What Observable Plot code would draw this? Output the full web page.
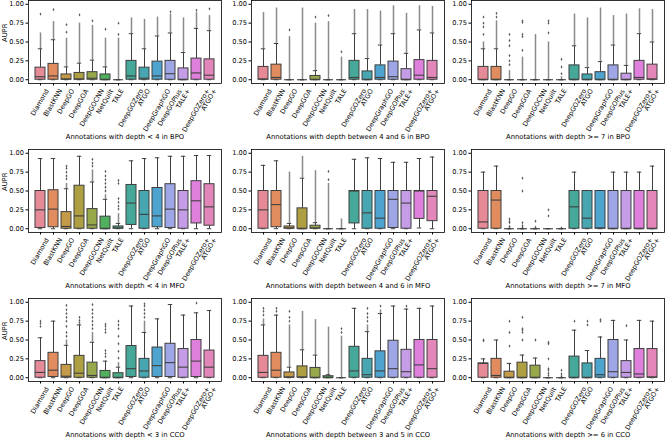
<!DOCTYPE html>
<html>
<head>
<meta charset="utf-8">
<script src="https://cdn.jsdelivr.net/npm/d3@7"></script>
<script src="https://cdn.jsdelivr.net/npm/@observablehq/plot@0.6"></script>
<style>
  html, body { margin: 0; padding: 0; background: #fff; }
  #chart { position: relative; width: 666px; height: 441px; overflow: hidden; background: #fff; font-family: "DejaVu Sans", sans-serif; }
</style>
</head>
<body>
<div id="chart"></div>
<script>
// ---- categories / labels ----
const methods = ["Diamond","BlastKNN","DeepGO","DeepGOA","DeepGOCNN","NetQuilt","TALE","DeepGOZero","ATGO","DeepGraphGO","DeepGOPlus","TALE+","DeepGOZero+","ATGO+"];
const palette = ["#e68a98","#e08c5e","#c59a48","#ae9f42","#97a84a","#50b05e","#49a983","#45a898","#48a6b0","#4ea3cf","#9ea6e6","#c49de6","#df80dc","#e386ba"];
const titles = [
  "Annotations with depth < 4 in BPO",
  "Annotations with depth between 4 and 6 in BPO",
  "Annotations with depth >= 7 in BPO",
  "Annotations with depth < 4 in MFO",
  "Annotations with depth between 4 and 6 in MFO",
  "Annotations with depth >= 7 in MFO",
  "Annotations with depth < 3 in CCO",
  "Annotations with depth between 3 and 5 in CCO",
  "Annotations with depth >= 6 in CCO"
];
const yTicks = [0, 0.25, 0.5, 0.75, 1];
const yLabel = "AUPR";

// ---- box stats per panel: [whiskerLow, q1, median, q3, whiskerHigh, denseFlierTop] ----
const bpo1 = [[0,0,0.04,0.16,0.41,0.62],[0,0,0.05,0.21,0.53,0.77],[0,0,0.01,0.07,0.17,0.55],[0,0,0.01,0.09,0.22,0.75],[0,0,0.02,0.10,0.26,0.72],[0,0,0,0.07,0.17,0.55],[0,0,0,0,0,0.55],[0,0,0.05,0.25,0.61,0.82],[0,0,0.02,0.16,0.41,0.80],[0,0,0.05,0.24,0.58,0.83],[0,0,0.08,0.25,0.62,0.87],[0,0,0,0.15,0.36,0.82],[0,0,0.09,0.28,0.68,0.89],[0,0,0.06,0.27,0.65,0.85]];
const bpo2 = [[0,0,0.01,0.17,0.41,0.89],[0,0,0.03,0.20,0.48,0.95],[0,0,0,0,0,0.57],[0,0,0,0,0,0.95],[0,0,0,0.05,0.12,0.75],[0,0,0,0,0,0.77],[0,0,0,0,0,0.30],[0,0,0.03,0.25,0.61,0.93],[0,0,0,0.11,0.28,0.93],[0,0,0.03,0.19,0.46,0.91],[0,0,0.04,0.24,0.61,0.98],[0,0,0,0.14,0.35,0.88],[0,0,0.06,0.26,0.66,0.98],[0,0,0.03,0.25,0.62,0.97]];
const bpo3 = [[0,0,0,0.17,0.41,0.50],[0,0,0,0.17,0.41,0.78],[0,0,0,0,0,0.12],[0,0,0,0,0,0.30],[0,0,0,0,0,0.60],[0,0,0,0,0,0.50],[0,0,0,0,0,0.04],[0,0,0,0.19,0.45,0.87],[0,0,0,0.07,0.16,0.82],[0,0,0,0.10,0.24,0.95],[0,0,0,0.19,0.46,0.85],[0,0,0,0.08,0.19,0.87],[0,0,0.03,0.25,0.61,0.94],[0,0,0.01,0.20,0.50,0.93]];
const mfo1 = [[0,0.01,0.25,0.50,0.93,null],[0,0.02,0.26,0.51,0.93,null],[0,0,0.03,0.22,0.53,0.60],[0,0,0.17,0.57,0.96,null],[0,0,0.05,0.26,0.62,0.78],[0,0,0,0.16,0.39,0.45],[0,0,0.01,0.03,0.07,0.20],[0,0.05,0.34,0.58,0.90,null],[0,0,0.19,0.50,0.93,null],[0,0.02,0.17,0.54,0.94,null],[0,0.01,0.26,0.59,0.96,null],[0,0,0.25,0.50,0.96,null],[0,0.07,0.37,0.63,0.97,null],[0,0.04,0.29,0.59,0.97,null]];
const mfo2 = [[0,0,0.25,0.50,0.84,null],[0,0.02,0.32,0.50,0.90,null],[0,0,0.01,0.03,0.07,0.75],[0,0,0,0.27,0.67,0.96],[0,0,0.01,0.04,0.08,0.77],[0,0,0,0,0,0.60],[0,0,0,0,0,0.13],[0,0.07,0.50,0.50,0.92,null],[0,0,0.21,0.50,0.94,null],[0,0,0.14,0.50,0.93,null],[0,0.01,0.39,0.50,0.88,null],[0,0,0.34,0.50,0.88,null],[0.01,0.13,0.50,0.50,0.93,null],[0,0.10,0.43,0.50,0.95,null]];
const mfo3 = [[0,0,0.09,0.50,0.75,null],[0,0,0.38,0.50,0.83,null],[0,0,0,0,0,null],[0,0,0,0,0,null],[0,0,0,0,0,null],[0,0,0,0,0,null],[0,0,0,0,0,null],[0,0,0.29,0.50,0.75,null],[0,0,0.14,0.50,0.50,null],[0,0,0.01,0.50,0.50,null],[0,0,0,0.50,0.75,null],[0,0,0,0.50,0.75,null],[0,0,0,0.50,0.75,null],[0,0,0,0.50,0.83,null]];
const cco1 = [[0,0,0.07,0.22,0.53,null],[0,0.01,0.10,0.33,0.75,null],[0,0,0.02,0.17,0.43,0.50],[0,0,0.06,0.29,0.70,null],[0,0,0.03,0.20,0.47,0.60],[0,0,0,0.09,0.22,null],[0,0,0,0.06,0.14,0.20],[0,0.01,0.12,0.42,0.95,null],[0,0,0.09,0.25,0.60,0.75],[0,0.01,0.16,0.40,0.78,null],[0,0.01,0.20,0.45,0.97,null],[0,0,0.14,0.38,0.83,null],[0,0.01,0.22,0.50,0.86,null],[0,0,0.14,0.36,0.89,null]];
const cco2 = [[0,0,0.07,0.29,0.70,0.78],[0,0,0.10,0.33,0.83,null],[0,0,0.01,0.07,0.14,0.70],[0,0,0.01,0.15,0.37,0.88],[0,0,0,0.13,0.30,0.77],[0,0,0,0.02,0.04,0.67],[0,0,0,0,0,0.55],[0,0,0.09,0.41,0.92,null],[0,0,0.04,0.25,0.61,0.70],[0,0,0.09,0.35,0.85,0.90],[0,0,0.12,0.49,0.95,null],[0,0,0.08,0.37,0.91,null],[0,0,0.17,0.50,0.92,null],[0,0,0.12,0.50,0.95,null]];
const cco3 = [[0,0,0.19,0.19,0.25,null],[0,0,0.03,0.25,0.50,null],[0,0,0,0.08,0.19,null],[0,0,0,0.20,0.30,null],[0,0,0,0.16,0.26,null],[0,0,0,0,0,null],[0,0,0,0,0,null],[0,0,0,0.28,0.63,null],[0,0,0,0.19,0.36,null],[0,0,0.04,0.25,0.54,null],[0,0,0.08,0.50,0.76,null],[0,0,0.07,0.22,0.50,null],[0,0,0.05,0.38,0.76,null],[0,0,0.01,0.38,0.75,null]];

// ---- isolated fliers per panel (one list per method) ----
const bpo1Out = [[0.87],[0.93],[0.63,0.73],[0.86],[0.78],[0.67],[0.60,0.75],[],[],[],[0.90],[],[0.92],[0.94]];
const bpo2Out = [[],[],[0.66],[],[0.83],[0.85],[0.37],[],[],[],[],[],[],[]];
const bpo3Out = [[0.60,0.70,0.75,0.83],[0.83,0.88],[0.20,0.25,0.32,0.45,0.52,0.60],[0.39,0.57,0.60,0.76,0.78],[],[0.62,0.75,0.78],[0.08,0.17,0.27],[],[],[],[],[],[],[]];
const mfo1Out = [[],[],[0.66,0.70,0.75,0.80,0.83],[],[0.83,0.87,0.92],[0.50,0.55,0.60,0.65,0.70,0.76],[0.26,0.30,0.35,0.40,0.60,0.64],[],[],[],[],[],[],[]];
const mfo2Out = [[],[],[],[],[],[0.65,0.76],[],[],[],[],[],[],[],[]];
const mfo3Out = [[],[],[0.01,0.03,0.08,0.10,0.13],[0.02,0.04,0.08,0.50,0.67],[0.02,0.10],[0.17,0.25],[0.01],[],[],[],[],[],[],[]];
const cco1Out = [[0.68,0.72,0.75],[],[0.55,0.60,0.68,0.75,0.80,0.85,0.90,0.96],[0.73,0.76,0.80],[0.65,0.70,0.75,0.80,0.85,0.90,0.97],[0.28,0.32,0.36,0.60,0.64,0.68,0.71],[0.26,0.35,0.45,0.55,0.65,0.70,0.75],[],[0.80,0.85,0.90,0.95,0.98],[],[],[],[0.99],[]];
const cco2Out = [[0.83,0.88,0.92],[0.88,0.92],[0.75,0.80,0.88],[],[],[],[0.60,0.65],[],[0.75,0.80,0.85,0.92],[0.95],[],[0.95],[],[]];
const cco3Out = [[0.49,0.50],[],[0.42,0.60,0.75],[0.50,0.60,0.63,0.65,0.80],[0.50],[0.03,0.06,0.10,0.12,0.25,0.45,0.47],[0.02,0.05,0.10],[0.75],[0.70,0.75],[0.75,0.77],[],[0.69],[],[]];

const panelStats = [bpo1, bpo2, bpo3, mfo1, mfo2, mfo3, cco1, cco2, cco3];
const panelOut = [bpo1Out, bpo2Out, bpo3Out, mfo1Out, mfo2Out, mfo3Out, cco1Out, cco2Out, cco3Out];

// ---- layout ----
const frameLefts = [28, 251, 471];
const frameTops = [0, 149, 298];
const FW = 193, FH = 83, ML = 30, MT = 6, MB = 62;
const GRAY = "#3f3f3f";
const FONT = "DejaVu Sans";

const chart = document.getElementById("chart");

panelStats.forEach((stats, i) => {
  const col = i % 3, row = Math.floor(i / 3);
  const boxes = methods.map((m, j) => ({m, lo: stats[j][0], q1: stats[j][1], med: stats[j][2], q3: stats[j][3], hi: stats[j][4], dense: stats[j][5]}));
  const dense = boxes.filter(d => d.dense != null);
  const fliers = methods.flatMap((m, j) => panelOut[i][j].map(v => ({m, v})));
  const marks = [
    Plot.ruleX(boxes, {x: "m", y1: "q3", y2: "hi", stroke: GRAY, strokeWidth: 1}),
    Plot.ruleX(boxes, {x: "m", y1: "lo", y2: "q1", stroke: GRAY, strokeWidth: 1}),
    Plot.tickY(boxes, {x: "m", y: "hi", stroke: GRAY, strokeWidth: 1, insetLeft: 2.8, insetRight: 2.8}),
    Plot.tickY(boxes, {x: "m", y: "lo", stroke: GRAY, strokeWidth: 1, insetLeft: 2.8, insetRight: 2.8}),
    Plot.ruleX(dense, {x: "m", y1: "hi", y2: "dense", stroke: "#8a8a8a", strokeWidth: 1.5}),
    Plot.dot(fliers, {x: "m", y: "v", r: 1, fill: "#5a5a5a", stroke: null, symbol: "diamond"}),
    Plot.barY(boxes, {x: "m", y1: "q1", y2: "q3", fill: "m", stroke: GRAY, strokeWidth: 1}),
    Plot.tickY(boxes, {x: "m", y: "med", stroke: GRAY, strokeWidth: 1.1}),
    Plot.frame({stroke: "#000", strokeWidth: 0.8}),
    Plot.text([titles[i]], {text: d => d, frameAnchor: "bottom", dy: 55, fontSize: 6.8, fill: "#000"})
  ];
  if (col === 0) marks.push(Plot.text([yLabel], {text: d => d, frameAnchor: "left", rotate: -90, dx: -24, fontSize: 6.8, fill: "#000"}));
  const svg = Plot.plot({
    width: ML + FW, height: MT + FH + MB,
    marginLeft: ML, marginRight: 0, marginTop: MT, marginBottom: MB,
    style: {fontFamily: FONT, fontSize: "6.6px", color: "#000", background: "transparent", overflow: "visible"},
    x: {domain: methods, paddingInner: 0.2, paddingOuter: 0.1, tickRotate: -60, tickSize: 2.5, tickPadding: 3, label: null},
    y: {domain: [-0.05, 1.05], ticks: yTicks, tickFormat: d3.format(".2f"), tickSize: 2.5, tickPadding: 2, label: null},
    color: {domain: methods, range: palette},
    marks
  });
  const wrap = document.createElement("div");
  wrap.style.position = "absolute";
  wrap.style.left = (frameLefts[col] - ML) + "px";
  wrap.style.top = (frameTops[row] - MT) + "px";
  wrap.appendChild(svg);
  chart.appendChild(wrap);
  // place rotated tick labels like matplotlib (bbox centered under tick, top just below the axis)
  const xs = svg.scale("x");
  const svgBox = svg.getBoundingClientRect();
  let labels = svg.querySelectorAll('g[aria-label="x-axis tick label"] text');
  if (!labels.length) labels = svg.querySelectorAll('g[aria-label="x-axis"] g.tick text');
  labels.forEach(t => {
    const name = t.textContent;
    const tickX = xs.apply(name) + xs.bandwidth / 2;
    const r = t.getBoundingClientRect();
    const cx = r.left + r.width / 2 - svgBox.left;
    const top = r.top - svgBox.top;
    const sx = tickX - cx;
    const sy = (MT + FH + 4.5) - top;
    const tr = t.getAttribute("transform") || "";
    t.setAttribute("transform", `translate(${sx.toFixed(2)},${sy.toFixed(2)}) ${tr}`);
  });
});
</script>
</body>
</html>
